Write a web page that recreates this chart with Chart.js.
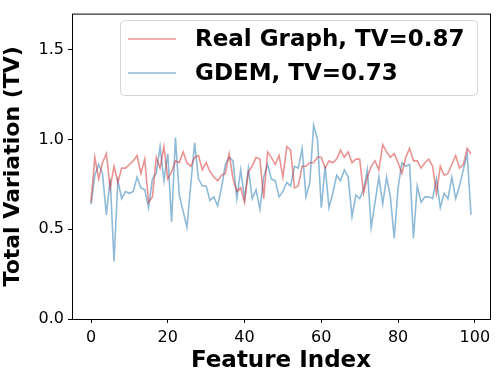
<!DOCTYPE html>
<html>
<head>
<meta charset="utf-8">
<script src="https://cdn.jsdelivr.net/npm/chart.js@4"></script>
<style>
  html, body { margin: 0; padding: 0; background: #fff; }
  canvas { display: block; }
</style>
</head>
<body>
<canvas id="tv-chart" width="499" height="380"></canvas>
<script>
// data
const featureIndex = Array.from({length: 100}, (_, i) => i);
const realGraph = [
  0.65, 0.90, 0.78, 0.87, 0.92, 0.73, 0.85, 0.76, 0.84, 0.84,
  0.86, 0.88, 0.91, 0.81, 0.89, 0.65, 0.68, 0.90, 0.84, 0.96,
  0.78, 0.82, 0.88, 0.87, 0.93, 0.87, 0.85, 0.90, 0.91, 0.83,
  0.87, 0.82, 0.79, 0.77, 0.80, 0.81, 0.92, 0.78, 0.71, 0.73,
  0.65, 0.82, 0.85, 0.90, 0.89, 0.67, 0.93, 0.90, 0.86, 0.91,
  0.79, 0.96, 0.94, 0.73, 0.74, 0.85, 0.85, 0.87, 0.87, 0.90,
  0.90, 0.84, 0.88, 0.87, 0.89, 0.94, 0.90, 0.93, 0.87, 0.89,
  0.89, 0.70, 0.79, 0.85, 0.88, 0.83, 0.97, 0.93, 0.90, 0.92,
  0.87, 0.81, 0.90, 0.95, 0.88, 0.88, 0.84, 0.87, 0.89, 0.85,
  0.70, 0.85, 0.80, 0.81, 0.86, 0.91, 0.84, 0.86, 0.95, 0.92
];
const gdem = [
  0.64, 0.80, 0.86, 0.81, 0.58, 0.78, 0.32, 0.77, 0.67, 0.71,
  0.70, 0.71, 0.79, 0.73, 0.72, 0.62, 0.78, 0.81, 0.96, 0.77,
  0.92, 0.54, 1.01, 0.69, 0.60, 0.51, 0.75, 0.98, 0.78, 0.74,
  0.74, 0.66, 0.68, 0.63, 0.73, 0.86, 0.90, 0.88, 0.67, 0.83,
  0.67, 0.84, 0.67, 0.72, 0.61, 0.79, 0.86, 0.78, 0.77, 0.68,
  0.71, 0.76, 0.74, 0.85, 0.84, 0.95, 0.68, 0.76, 1.08, 1.00,
  0.62, 0.85, 0.62, 0.70, 0.80, 0.77, 0.83, 0.79, 0.57, 0.69,
  0.67, 0.72, 0.83, 0.51, 0.65, 0.79, 0.64, 0.79, 0.68, 0.45,
  0.73, 0.87, 0.85, 0.86, 0.45, 0.74, 0.65, 0.68, 0.68, 0.67,
  0.78, 0.62, 0.70, 0.67, 0.79, 0.67, 0.74, 0.83, 0.92, 0.58
];
const seriesLabels = ['Real Graph, TV=0.87', 'GDEM, TV=0.73'];
const xTicks = [0, 20, 40, 60, 80, 100];
const yTicks = [0.0, 0.5, 1.0, 1.5];

const FONT = "'DejaVu Sans', sans-serif";

// frame around the plot area + legend box in the upper right
const framePlugin = {
    id: 'frame',
    afterDatasetsDraw(chart) {
        const ctx = chart.ctx;
        const a = chart.chartArea;
        ctx.save();
        ctx.strokeStyle = '#000';
        ctx.lineWidth = 1;
        ctx.strokeRect(a.left + 0.5, a.top + 0.5, a.right - a.left, a.bottom - a.top);

        // legend
        const bx = 120, by = 20, bw = 357, bh = 75;
        ctx.beginPath();
        ctx.roundRect(bx + 0.5, by + 0.5, bw, bh, 4);
        ctx.fillStyle = 'rgba(255,255,255,0.8)';
        ctx.fill();
        ctx.strokeStyle = '#d6d6d6';
        ctx.stroke();

        ctx.font = 'bold 23px ' + FONT;
        ctx.textBaseline = 'middle';
        ctx.textAlign = 'left';
        chart.data.datasets.forEach((ds, i) => {
            const y = 39 + i * 34;
            ctx.beginPath();
            ctx.moveTo(128, y);
            ctx.lineTo(176, y);
            ctx.strokeStyle = ds.borderColor;
            ctx.lineWidth = 1.6;
            ctx.stroke();
            ctx.fillStyle = '#000';
            ctx.fillText(ds.label, 195, y + 1);
        });
        ctx.restore();
    }
};

new Chart(document.getElementById('tv-chart'), {
    type: 'line',
    data: {
        datasets: [
            {
                label: seriesLabels[0],
                data: realGraph.map((v, i) => ({x: featureIndex[i], y: v})),
                borderColor: 'rgba(214, 39, 40, 0.5)',
                borderWidth: 1.6,
                pointRadius: 0,
                tension: 0
            },
            {
                label: seriesLabels[1],
                data: gdem.map((v, i) => ({x: featureIndex[i], y: v})),
                borderColor: 'rgba(31, 119, 180, 0.5)',
                borderWidth: 1.6,
                pointRadius: 0,
                tension: 0
            }
        ]
    },
    options: {
        responsive: false,
        animation: false,
        layout: { padding: { top: 7, right: 9, left: 0, bottom: 0 } },
        plugins: {
            legend: { display: false },
            tooltip: { enabled: false }
        },
        scales: {
            x: {
                type: 'linear',
                min: -4.95,
                max: 103.95,
                afterBuildTicks: scale => { scale.ticks = xTicks.map(v => ({value: v})); },
                afterFit: scale => { scale.height = 61; },
                border: { display: false },
                grid: { drawOnChartArea: false, tickLength: 4, tickColor: '#000' },
                ticks: {
                    color: '#000',
                    font: { family: FONT, size: 16 },
                    padding: 5,
                    maxRotation: 0
                },
                title: {
                    display: true,
                    text: 'Feature Index',
                    color: '#000',
                    font: { family: FONT, size: 23, weight: 'bold' },
                    padding: { top: 0, bottom: 5 }
                }
            },
            y: {
                min: 0,
                max: 1.7,
                afterBuildTicks: scale => { scale.ticks = yTicks.map(v => ({value: v})); },
                afterFit: scale => { scale.width = 72; },
                border: { display: false },
                grid: { drawOnChartArea: false, tickLength: 4, tickColor: '#000' },
                ticks: {
                    color: '#000',
                    font: { family: FONT, size: 16 },
                    padding: 4,
                    callback: v => v.toFixed(1)
                },
                title: {
                    display: true,
                    text: 'Total Variation (TV)',
                    color: '#000',
                    font: { family: FONT, size: 22, weight: 'bold' },
                    padding: { top: 0, bottom: 2 }
                }
            }
        }
    },
    plugins: [framePlugin]
});
</script>
</body>
</html>
